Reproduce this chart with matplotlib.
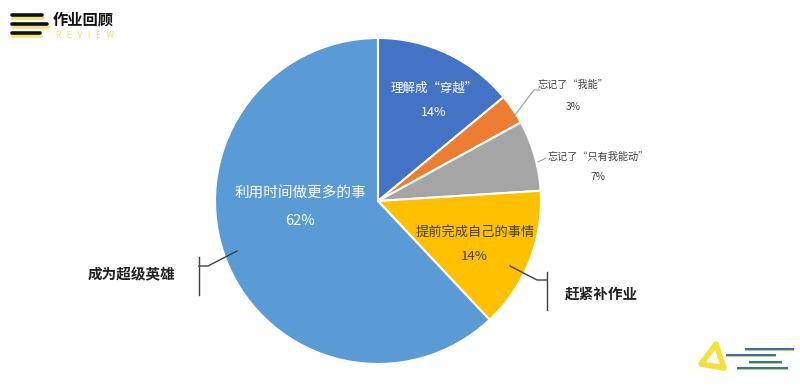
import numpy as np
import matplotlib.pyplot as plt
from matplotlib.patches import Polygon

plt.rcParams['font.family'] = ['Noto Sans CJK SC', 'DejaVu Sans']

# data
labels = ['理解成“穿越”', '忘记了“我能”', '忘记了“只有我能动”', '提前完成自己的事情', '利用时间做更多的事']
values = [14, 3, 7, 14, 62]
colors = ['#4472C4', '#ED7D31', '#A5A5A5', '#FFC000', '#5B9BD5']
groups = ['成为超级英雄', '赶紧补作业']

W, H = 800, 390
def Y(py):
    return H - py

fig = plt.figure(figsize=(8, 3.9), dpi=100)
fig.patch.set_facecolor('white')
ax = fig.add_axes([0, 0, 1, 1])

cx, cy, r = 378, Y(201), 163
ax.pie(values, colors=colors, startangle=90, counterclock=False,
       center=(cx, cy), radius=r, frame=True,
       wedgeprops=dict(edgecolor='white', linewidth=1.5))
ax.set_xlim(0, W)
ax.set_ylim(0, H)
ax.set_aspect('equal')
ax.axis('off')

# labels inside / next to slices
txt = dict(ha='center', va='center')
ax.text(434, Y(88), labels[0], color='white', fontsize=9, **txt)
ax.text(434, Y(113), f'{values[0]}%', color='white', fontsize=9, **txt)

ax.text(573, Y(85), labels[1], color='#404040', fontsize=7.3, **txt)
ax.text(573, Y(107), f'{values[1]}%', color='#404040', fontsize=7.3, **txt)
ax.plot([515, 534, 540], [Y(115), Y(90), Y(90)], color='#a0a0a0', lw=0.8)

ax.text(598, Y(157), labels[2], color='#404040', fontsize=7.3, **txt)
ax.text(598, Y(177), f'{values[2]}%', color='#404040', fontsize=7.3, **txt)
ax.plot([538, 546], [Y(162), Y(158)], color='#a0a0a0', lw=0.8)

ax.text(475, Y(232), labels[3], color='#404040', fontsize=9.5, **txt)
ax.text(474, Y(257), f'{values[3]}%', color='#404040', fontsize=9.5, **txt)

ax.text(300, Y(193), labels[4], color='white', fontsize=10.5, **txt)
ax.text(300, Y(221), f'{values[4]}%', color='white', fontsize=10.5, **txt)

# group brackets
ax.plot([199, 199], [Y(257), Y(295)], color='#404040', lw=1)
ax.plot([199, 208, 237], [Y(266), Y(266), Y(251)], color='#404040', lw=1)
ax.text(132, Y(274), groups[0], color='#222222', fontsize=10.5, fontweight='bold', **txt)

ax.plot([547, 547], [Y(272), Y(310)], color='#404040', lw=1)
ax.plot([547, 537, 510], [Y(280), Y(280), Y(266)], color='#404040', lw=1)
ax.text(601, Y(293), groups[1], color='#222222', fontsize=10.5, fontweight='bold', **txt)

# title logo
for x0, x1, yy in [(12, 42, 15), (12, 47, 24), (12, 40, 33)]:
    ax.plot([x0 + 1, x1 + 1], [Y(yy + 2.5), Y(yy + 2.5)], color='#f5e27a', lw=2.6, solid_capstyle='round')
    ax.plot([x0, x1], [Y(yy), Y(yy)], color='#111111', lw=2.6, solid_capstyle='round')
ax.text(53, Y(19), '作业回顾', color='#111111', fontsize=11, fontweight='bold', ha='left', va='center')
ax.text(56, Y(36), 'R   E   V   I   E   W', color='#f0df6a', fontsize=6, ha='left', va='center')

# bottom-right decoration
tri = Polygon([[716, Y(344)], [701, Y(364)], [724, Y(368)]], closed=True,
              fill=False, edgecolor='#f3e03a', lw=4, joinstyle='round')
ax.add_patch(tri)
for x0, x1, yy in [(746, 793, 349), (727, 775, 355), (750, 781, 362), (738, 787, 368)]:
    ax.plot([x0, x1], [Y(yy + 1.2), Y(yy + 1.2)], color='#b8d94a', lw=1.3)
    ax.plot([x0, x1], [Y(yy), Y(yy)], color='#3a6fa8', lw=1.5)

fig.savefig('out.png', dpi=100, facecolor='white')
